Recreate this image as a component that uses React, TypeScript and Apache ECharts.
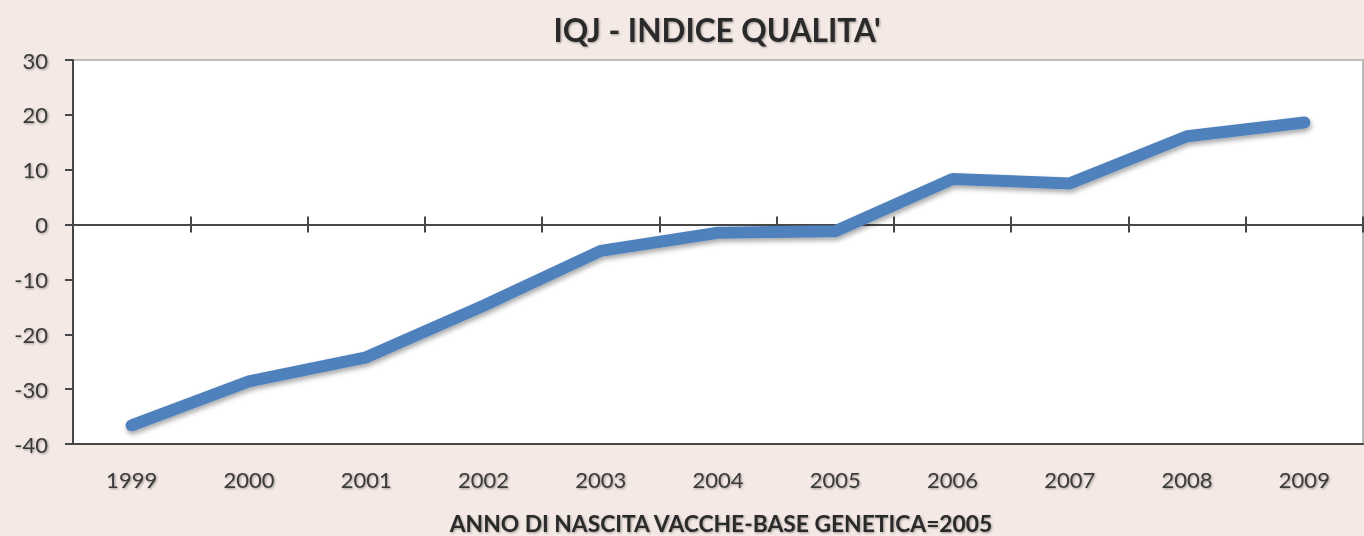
import React, { useEffect, useRef } from "react";
import * as echarts from "echarts";

const years = ["1999", "2000", "2001", "2002", "2003", "2004", "2005", "2006", "2007", "2008", "2009"];
const iqjValues = [-36.6, -28.6, -24.2, -14.8, -4.8, -1.5, -1.2, 8.3, 7.5, 16.1, 18.6];
const yTicks = { min: -40, max: 30, step: 10 };
const titleText = "IQJ - INDICE QUALITA'";
const xAxisTitle = "ANNO DI NASCITA VACCHE-BASE GENETICA=2005";

const FONT = "Lato, 'Open Sans', sans-serif";
const DARK = "#474747";
const textShadow = {
  textShadowColor: "rgba(0,0,0,0.35)",
  textShadowBlur: 2,
  textShadowOffsetX: 1,
  textShadowOffsetY: 1,
};

export default function App() {
  const ref = useRef<HTMLDivElement>(null);
  useEffect(() => {
    if (!ref.current) return;
    const chart = echarts.init(ref.current, null, { renderer: "svg" });
    const tickAxisBase = {
      type: "category",
      data: years,
      axisLine: { show: true, onZero: true, onZeroAxisIndex: 0, lineStyle: { color: DARK, width: 2 } },
      axisTick: { show: true, inside: false, length: 8, lineStyle: { color: DARK, width: 2 } },
      axisLabel: { show: false },
      splitLine: { show: false },
    };
    chart.setOption({
      animation: false,
      backgroundColor: "#f4e9e4",
      grid: {
        left: 73,
        right: 1,
        top: 60,
        bottom: 92,
        show: true,
        backgroundColor: "#ffffff",
        borderColor: "#a9a9a9",
        borderWidth: 1.5,
      },
      graphic: [
        {
          type: "text",
          x: 717,
          y: 30,
          style: {
            text: titleText,
            fontFamily: FONT,
            fontWeight: "bold",
            fontSize: 31.5,
            fill: "#2a2a2a",
            textAlign: "center",
            textVerticalAlign: "middle",
            ...textShadow,
          },
        },
        {
          type: "text",
          x: 721,
          y: 523,
          style: {
            text: xAxisTitle,
            fontFamily: FONT,
            fontWeight: "bold",
            fontSize: 22.8,
            fill: "#2a2a2a",
            textAlign: "center",
            textVerticalAlign: "middle",
            ...textShadow,
          },
        },
      ],
      xAxis: [
        {
          type: "category",
          data: years,
          position: "bottom",
          axisLine: { show: true, onZero: false, lineStyle: { color: DARK, width: 2 } },
          axisTick: { show: false },
          axisLabel: {
            margin: 24,
            fontSize: 22,
            fontFamily: FONT,
            color: "#3a3a3a",
            ...textShadow,
          },
          splitLine: { show: false },
        },
        { ...tickAxisBase, position: "bottom" },
        { ...tickAxisBase, position: "top" },
      ],
      yAxis: [
        {
          type: "value",
          min: yTicks.min,
          max: yTicks.max,
          interval: yTicks.step,
          axisLine: { show: true, lineStyle: { color: DARK, width: 2 } },
          axisTick: { show: true, length: 8, lineStyle: { color: DARK, width: 2 } },
          axisLabel: {
            margin: 25,
            fontSize: 22,
            fontFamily: FONT,
            color: "#3a3a3a",
            ...textShadow,
          },
          splitLine: {
            show: true,
            lineStyle: {
              color: ["#bdbdbd", "#bdbdbd", "#bdbdbd", "#bdbdbd", "#bdbdbd", "#bdbdbd", "#bdbdbd", DARK],
              width: 1.5,
              shadowColor: "rgba(0,0,0,0.2)",
              shadowBlur: 2,
              shadowOffsetY: 1,
            },
          },
        },
      ],
      series: [
        {
          type: "line",
          name: "IQJ",
          data: iqjValues,
          xAxisIndex: 0,
          yAxisIndex: 0,
          symbol: "none",
          z: 5,
          lineStyle: {
            color: "#4f81bd",
            width: 12,
            cap: "round",
            join: "round",
            shadowColor: "rgba(0,0,0,0.35)",
            shadowBlur: 5,
            shadowOffsetY: 3,
            shadowOffsetX: 1,
          },
        },
      ],
    });
    return () => chart.dispose();
  }, []);
  return <div ref={ref} style={{ position: "fixed", left: 0, top: 0, width: 1364, height: 536 }} />;
}
